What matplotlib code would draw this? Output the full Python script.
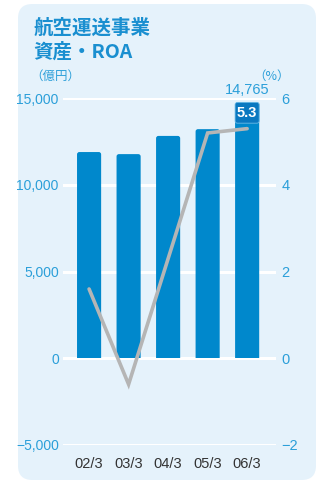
import matplotlib
matplotlib.use("Agg")
import matplotlib.pyplot as plt
from matplotlib.patches import FancyBboxPatch, Rectangle
import numpy as np

categories = ["02/3", "03/3", "04/3", "05/3", "06/3"]
assets = [11900, 11780, 12830, 13220, 14765]
roa = [1.6, -0.6, 2.3, 5.2, 5.3]
left_ticks = [-5000, 0, 5000, 10000, 15000]
left_labels = ["\u22125,000", "0", "5,000", "10,000", "15,000"]
right_ticks = [-2, 0, 2, 4, 6]
right_labels = ["\u22122", "0", "2", "4", "6"]

NARROW = ["Liberation Sans Narrow", "Liberation Sans", "DejaVu Sans"]
CJK = ["Noto Sans CJK JP", "DejaVu Sans"]
BLUE = "#0088cc"
TICKBLUE = "#2b9fd9"
PANEL = "#e5f2fb"

fig = plt.figure(figsize=(3.2, 4.83), dpi=100)
fig.patch.set_facecolor("white")

# background panel
panel = FancyBboxPatch((18 / 320, 3 / 483), 298 / 320, 476 / 483,
                       boxstyle="round,pad=0,rounding_size=0.045",
                       transform=fig.transFigure, facecolor=PANEL,
                       edgecolor="none", zorder=-10, mutation_aspect=320 / 483)
fig.patches.append(panel)

ax = fig.add_axes([63 / 320, 1 - 445 / 483, 213 / 320, (445 - 98.3) / 483])
ax.set_facecolor("none")
x = np.arange(len(categories))
ax.set_xlim(-0.66, 4.73)
ax.set_ylim(-5000, 15000)
for s in ax.spines.values():
    s.set_visible(False)
for t in left_ticks:
    ax.axhline(t, color="white", lw=2.2, zorder=1)

width = 0.61
aspect = (20000 / 346.7) / (5.39 / 213)
for xi, v in zip(x, assets):
    p = FancyBboxPatch((xi - width / 2, -2000), width, v + 2000,
                       boxstyle="round,pad=0,rounding_size=0.06",
                       mutation_aspect=aspect,
                       facecolor=BLUE, edgecolor="none", zorder=2)
    ax.add_patch(p)
    clip = Rectangle((xi - 1, 0), 2, 20000, transform=ax.transData)
    p.set_clip_path(clip)

ax.set_yticks(left_ticks)
ax.set_yticklabels(left_labels, family=NARROW, fontsize=10, color=TICKBLUE)
ax.set_xticks(x)
ax.set_xticklabels(categories, family=NARROW, fontsize=10.5, color="#333333")
ax.tick_params(axis="both", length=0, pad=3)
ax.tick_params(axis="x", pad=9)

# 5.3 box at the top of the last bar
box_h = 1200
box = FancyBboxPatch((x[-1] - width / 2, assets[-1] - box_h), width, box_h,
                     boxstyle="round,pad=0,rounding_size=0.06",
                     mutation_aspect=aspect, facecolor="#0a78c0",
                     edgecolor="#6fbbe6", lw=0.6, zorder=4)
ax.add_patch(box)
ax.text(x[-1], assets[-1] - box_h / 2, "5.3", family=NARROW, fontsize=10.5,
        fontweight="bold", color="white", ha="center", va="center", zorder=6)

# label 14,765
ax.text(x[-1], assets[-1] + 300, "14,765", family=NARROW, fontsize=10.5,
        color=TICKBLUE, ha="center", va="bottom")

ax2 = ax.twinx()
ax2.set_ylim(-2, 6)
for s in ax2.spines.values():
    s.set_visible(False)
ax2.set_yticks(right_ticks)
ax2.set_yticklabels(right_labels, family=NARROW, fontsize=10.5, color=TICKBLUE)
ax2.tick_params(axis="y", length=0, pad=4)
ax2.plot(x, roa, color="#b5b5b5", lw=2.6, solid_capstyle="round",
         solid_joinstyle="miter", zorder=3)

# titles
fig.text(33 / 320, 1 - 28 / 483, "航空運送事業", family=CJK, fontsize=14,
         fontweight="bold", color="#1a8fd0", va="center", ha="left")
fig.text(33 / 320, 1 - 52 / 483, "資産・ROA", family=CJK, fontsize=14,
         fontweight="bold", color="#1a8fd0", va="center", ha="left")
fig.text(30 / 320, 1 - 76 / 483, "（億円）", family=CJK, fontsize=9,
         color=TICKBLUE, va="center", ha="left")
fig.text(290 / 320, 1 - 76 / 483, "（%）", family=CJK, fontsize=9,
         color=TICKBLUE, va="center", ha="right")

fig.savefig("out.png", dpi=100, facecolor="white")
